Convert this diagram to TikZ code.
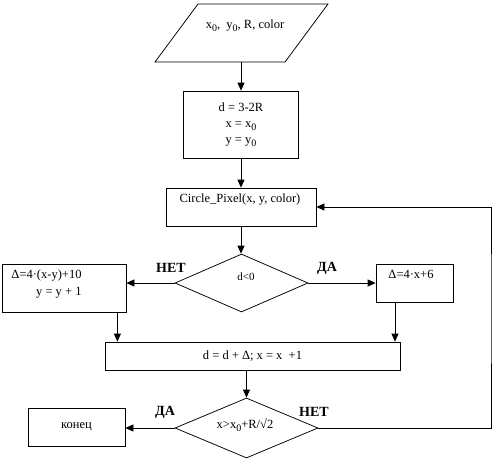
\documentclass[tikz,border=0pt]{standalone}
\usepackage{fontspec}
\setmainfont{Liberation Serif}
\usetikzlibrary{shapes.geometric,arrows.meta}
\newcommand\lowsub[1]{\raisebox{-0.45ex}{\fontsize{10}{10}\selectfont #1}}
\begin{document}
\begin{tikzpicture}[x=1pt,y=-1pt,
  box/.style={draw, line width=0.75pt, inner sep=0pt, font=\fontsize{12.5}{16}\selectfont},
  txt/.style={inner sep=0pt, font=\fontsize{12.5}{17}\selectfont},
  lbl/.style={inner sep=0pt, font=\bfseries\fontsize{14}{14}\selectfont},
  dia/.style={draw, diamond, line width=0.75pt, inner sep=0pt},
  arr/.style={line width=0.75pt, -{Triangle[length=8pt,width=7pt]}},
  ln/.style={line width=0.75pt}]
\useasboundingbox (0,0) rectangle (493,461);
% input parallelogram
\draw[ln] (155,62) -- (198,4) -- (328,4) -- (285,62) -- cycle;
\coordinate (inb) at (241,62);
\node[txt] (intxt) at (245,26) {x\lowsub{0},~ y\lowsub{0}, R, color};
% init
\node[box, minimum width=115pt, minimum height=67pt, align=center] (init) at (241,124.5)
  {d = 3-2R\\ x = x\lowsub{0}\\ y = y\lowsub{0}};
% circle pixel
\node[box, minimum width=150pt, minimum height=38pt] (cp) at (241,207) {};
\node[txt] (cptxt) at (240,200) {Circle\_Pixel(x, y, color)};
% decision 1
\node[dia, minimum width=133pt, minimum height=58pt, aspect=2.29] (c1) at (241.5,283) {};
\node[txt, font=\fontsize{11}{11}\selectfont] (c1txt) at (246,277) {d<0};
% left box
\node[box, minimum width=124pt, minimum height=48pt] (lb) at (64,288) {};
\node[txt, align=right] (lbtxt) at (46.5,284.5) {Δ=4·(x-y)+10\\ y = y + 1};
% right box
\node[box, minimum width=77pt, minimum height=38pt] (rb) at (414.5,283) {};
\node[txt] (rbtxt) at (411,274) {Δ=4·x+6};
% update
\node[box, minimum width=295pt, minimum height=28pt] (upd) at (252.5,356) {d = d + Δ; x = x~ +1};
% decision 2
\node[dia, minimum width=143pt, minimum height=60pt, aspect=2.38] (c2) at (246.5,428) {};
\node[txt] (c2txt) at (245,425) {x>x\lowsub{0}+R/√2};
% end
\node[box, minimum width=97pt, minimum height=38pt] (end) at (76.5,427) {конец};
% labels
\node[lbl] (no1) at (171,268) {НЕТ};
\node[lbl] (yes1) at (327,268) {ДА};
\node[lbl] (yes2) at (165,412) {ДА};
\node[lbl] (no2) at (314,412) {НЕТ};
\coordinate (rr) at (491,300);
% connectors
\draw[arr] (inb) -- (inb |- init.north);
\draw[arr] (init.south) -- (cp.north);
\draw[arr] (cp.south) -- (cp.south |- c1.north);
\draw[arr] (c1.west) -- (lb.east |- c1.west);
\draw[arr] (c1.east) -- (rb.west |- c1.east);
\draw[arr] ([xshift=-9pt]lb.south east) -- ([xshift=-9pt]lb.south east |- upd.north);
\draw[arr] ([xshift=-19.5pt]rb.south) -- ([xshift=-19.5pt]rb.south |- upd.north);
\draw[arr] (upd.south -| c2.north) -- (c2.north);
\draw[arr] (c2.west) -- (end.east |- c2.west);
\draw[arr] (c2.east) -| (rr) |- (cp.east);
\end{tikzpicture}
\end{document}
